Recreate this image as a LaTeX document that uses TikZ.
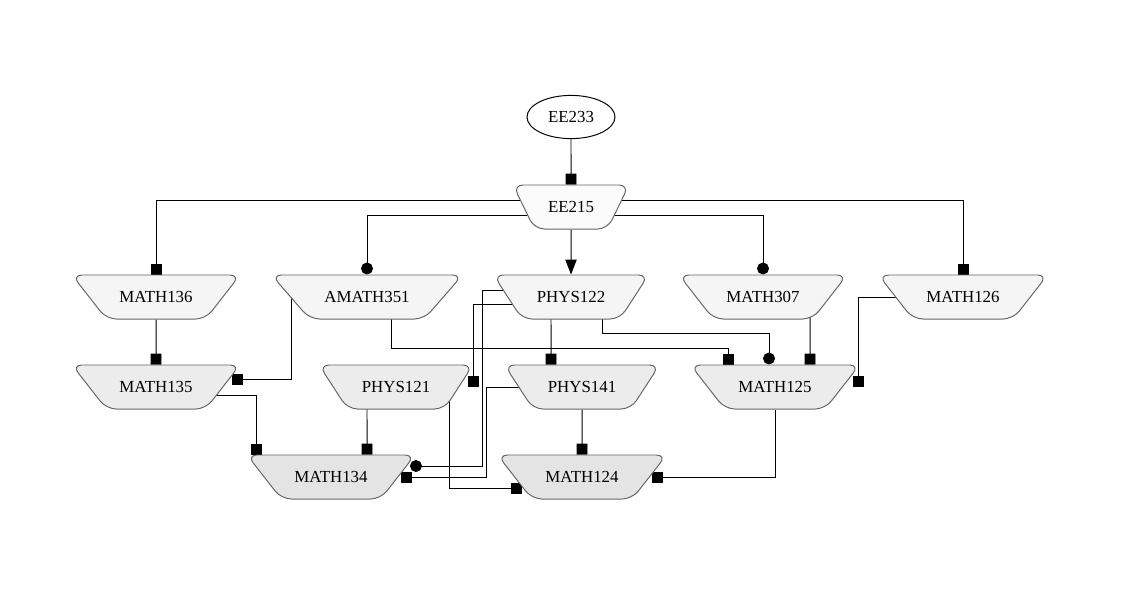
\documentclass[tikz,border=0pt]{standalone}
\usepackage{fontspec}
\setmainfont{Liberation Serif}
\usetikzlibrary{calc,shapes.geometric,arrows.meta}
\definecolor{rowa}{HTML}{F5F5F5}
\definecolor{rowb}{HTML}{ECECEC}
\definecolor{rowc}{HTML}{E4E4E4}
\pgfdeclarelayer{back}
\pgfsetlayers{back,main}
\def\coursenode{\node[course]}

\begin{document}
\begin{tikzpicture}[x=0.025cm,y=-0.025cm,font=\fontsize{12}{14}\selectfont,
  course/.style={trapezium,shape border rotate=180,trapezium stretches body,
    draw=black!60,line width=0.7pt,rounded corners=0.25cm,
    text height=8pt,text depth=0pt,inner ysep=11.65pt,inner xsep=0pt},
  wd/.style 2 args={minimum width=#1*0.025cm+0.15cm,trapezium left angle=#2,trapezium right angle=#2},
  sq/.style={line width=0.7pt,-{Square[length=7.8pt,width=7.8pt]}},
  dot/.style={line width=0.7pt,-{Circle[length=8.5pt]}},
  tri/.style={line width=0.7pt,-{Triangle[length=10.5pt,width=8pt]}}]
\useasboundingbox (0,0) rectangle (1132,600);
\node[ellipse,draw,line width=0.7pt,minimum width=2.2cm,minimum height=1.08cm,inner sep=0pt] (ee233) at (571,117) {EE233};
\coursenode[wd={110}{64},fill=white!60!rowa] (ee215) at (571,207) {EE215};
\coursenode[wd={162}{52},fill=rowa] (m136) at (156,297) {MATH136};
\coursenode[wd={185}{49},fill=rowa] (am351) at (367,297) {AMATH351};
\coursenode[wd={149}{57},fill=rowa] (p122) at (571,297) {PHYS122};
\coursenode[wd={162}{52},fill=rowa] (m307) at (763,297) {MATH307};
\coursenode[wd={163}{52},fill=rowa] (m126) at (963,297) {MATH126};
\coursenode[wd={162}{52},fill=rowb] (m135) at (156,387) {MATH135};
\coursenode[wd={148}{57},fill=rowb] (p121) at (396,387) {PHYS121};
\coursenode[wd={149}{57},fill=rowb] (p141) at (582,387) {PHYS141};
\coursenode[wd={163}{52},fill=rowb] (m125) at (775,387) {MATH125};
\coursenode[wd={162}{52},fill=rowc] (m134) at (331,477) {MATH134};
\coursenode[wd={163}{52},fill=rowc] (m124) at (582,477) {MATH124};
\begin{pgfonlayer}{back}
\draw[sq] (ee233) -- (ee215);
\draw[sq] ($(ee215)+(0,-7)$) -| (m136.north);
\draw[dot] ($(ee215)+(0,8)$) -| (am351.north);
\draw[tri] (ee215) -- (p122);
\draw[dot] ($(ee215)+(0,8)$) -| (m307.north);
\draw[sq] ($(ee215)+(0,-7)$) -| (m126.north);
\draw[sq] (m136) -- (m135);
\draw[sq] ($(am351)+(-76,0)$) |- ($(m135)+(76,-8)$);
\draw[sq] ($(am351)+(24,0)$) |- ($(m125.north)+(-47,-16)$) -- ($(m125.north)+(-47,0)$);
\draw[sq] ($(p122)+(-20,0)$) -- ($(p141.north)+(-31,0)$);
\draw[dot] ($(p122)+(31,0)$) |- ($(m125.north)+(-6,-31)$) -- ($(m125.north)+(-6,0)$);
\draw[sq] ($(m307)+(47,0)$) -- ($(m125.north)+(35,0)$);
\draw[sq] ($(m126)+(-40,0)$) -| ($(m125)+(83,0)$);
\draw[sq] ($(p122)+(-30,7)$) -| ($(p121)+(77,0)$);
\draw[dot] ($(p122)+(-30,-7)$) -| ($(m134)+(151,-11)$) -- ($(m134)+(79,-11)$);
\draw[sq] ($(p141)+(-30,0)$) -| ($(m134)+(155,0)$) -- ($(m134)+(70,0)$);
\draw[sq] ($(p121)+(53,0)$) |- ($(m124)+(-60,11)$);
\draw[sq] ($(m135)+(40,8)$) -| ($(m134.north)+(-75,0)$);
\draw[sq] ($(p121)+(-29,0)$) -- ($(m134.north)+(36,0)$);
\draw[sq] (p141) -- (m124);
\draw[sq] (m125) |- ($(m124)+(70,0)$);
\end{pgfonlayer}
\end{tikzpicture}
\end{document}
